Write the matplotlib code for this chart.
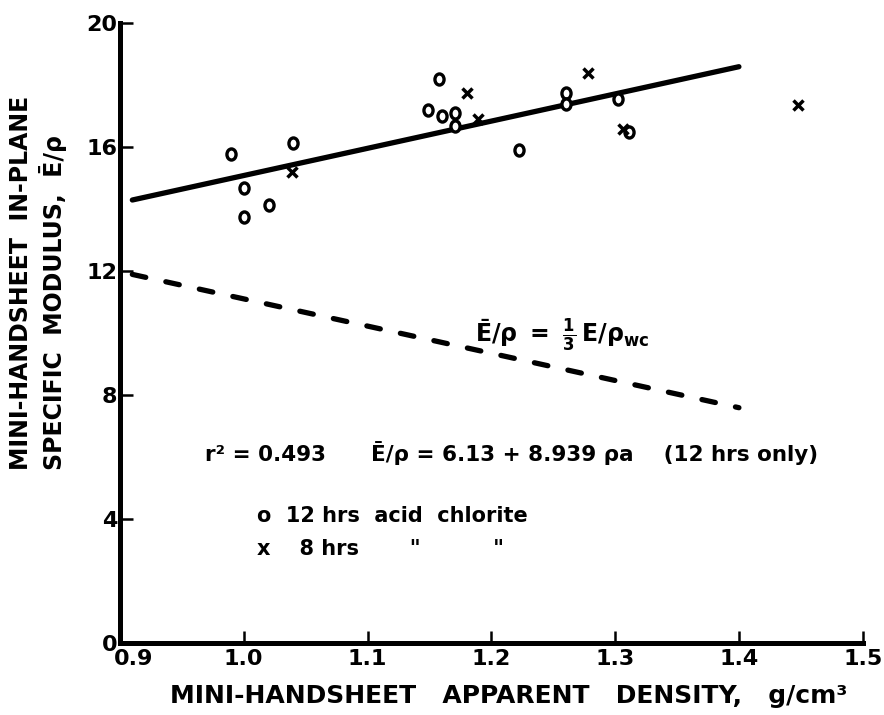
import matplotlib

matplotlib.use("Agg")
import matplotlib.pyplot as plt
from matplotlib.path import Path
from matplotlib.transforms import Affine2D, ScaledTranslation

plt.rcParams["font.family"] = ["DejaVu Sans"]
plt.rcParams["font.weight"] = "bold"
plt.rcParams["mathtext.fontset"] = "dejavusans"
plt.rcParams["mathtext.default"] = "bf"

# ------------------------------------------------------------- data
# 12 hrs acid chlorite (o)
circ_x = [0.990, 1.000, 1.000, 1.020, 1.040, 1.158, 1.149, 1.160, 1.171,
          1.171, 1.222, 1.260, 1.260, 1.302, 1.311]
circ_y = [15.8, 14.7, 13.75, 14.15, 16.15, 18.2, 17.2, 17.0, 17.1,
          16.7, 15.9, 17.75, 17.4, 17.55, 16.5]
# 8 hrs acid chlorite (x)
cross_x = [1.039, 1.180, 1.189, 1.278, 1.306, 1.448]
cross_y = [15.2, 17.75, 16.9, 18.4, 16.6, 17.35]

# regression (12 hrs only) and the 1/3 E/rho_wc reference
fit_x, fit_y = [0.91, 1.40], [14.3, 18.6]
wc_x, wc_y = [0.91, 1.40], [11.9, 7.6]

xticks = [0.9, 1.0, 1.1, 1.2, 1.3, 1.4, 1.5]
yticks = [0, 4, 8, 12, 16, 20]

# ------------------------------------------------------------- figure
fig = plt.figure(figsize=(8.84, 7.15), dpi=100)
ax = fig.add_axes([0.1357, 0.1003, 0.8402, 0.8671])

ax.plot(fit_x, fit_y, color="black", lw=3.8, solid_capstyle="round", zorder=2)
ax.plot(wc_x, wc_y, color="black", lw=3.8, dashes=(2.6, 3.9),
        dash_capstyle="round", zorder=2)

oval = Path.unit_circle().transformed(Affine2D().scale(0.82, 1.0))
ax.plot(circ_x, circ_y, ls="none", marker=oval, ms=8, mfc="white",
        mec="black", mew=2.4, zorder=3)
ax.plot(cross_x, cross_y, ls="none", marker="x", ms=7.5, mec="black",
        mew=2.5, zorder=3)

ax.text(0.969, 6.15,
        "r² = 0.493      Ē/ρ = 6.13 + 8.939 ρa    (12 hrs only)",
        fontsize=15.5, va="center", ha="left")
ax.text(1.187, 9.95, r"$\bar{E}/\rho\ =\ \frac{1}{3}\,E/\rho_{wc}$",
        fontsize=17, va="center", ha="left")
ax.text(1.011, 4.1, "o  12 hrs  acid  chlorite", fontsize=15,
        va="center", ha="left")
ax.text(1.011, 3.05, "x    8 hrs       \"          \"", fontsize=15,
        va="center", ha="left")

ax.set_xlim(0.9, 1.5)
ax.set_ylim(0, 20)
ax.set_xticks(xticks)
ax.set_xticklabels([f"{v:.1f}" for v in xticks])
ax.set_yticks(yticks)
for s in ("top", "right"):
    ax.spines[s].set_visible(False)
for s in ("left", "bottom"):
    ax.spines[s].set_linewidth(3.6)
    ax.spines[s].set_capstyle("projecting")
ax.tick_params(direction="in", length=9, width=1.8, labelsize=16, pad=4)
ax.tick_params(axis="y", pad=2)
lab0 = ax.get_xticklabels()[0]
lab0.set_transform(lab0.get_transform()
                   + ScaledTranslation(10 / 72, 0, fig.dpi_scale_trans))

fig.text(0.575, 0.026, "MINI-HANDSHEET   APPARENT   DENSITY,   g/cm³",
         fontsize=18, ha="center", va="center")
fig.text(0.043, 0.343,
         "MINI-HANDSHEET  IN-PLANE\nSPECIFIC  MODULUS,  Ē/ρ",
         fontsize=17, rotation=90, ha="center", va="bottom",
         multialignment="left", linespacing=1.3)

fig.savefig("out.png", dpi=100)
